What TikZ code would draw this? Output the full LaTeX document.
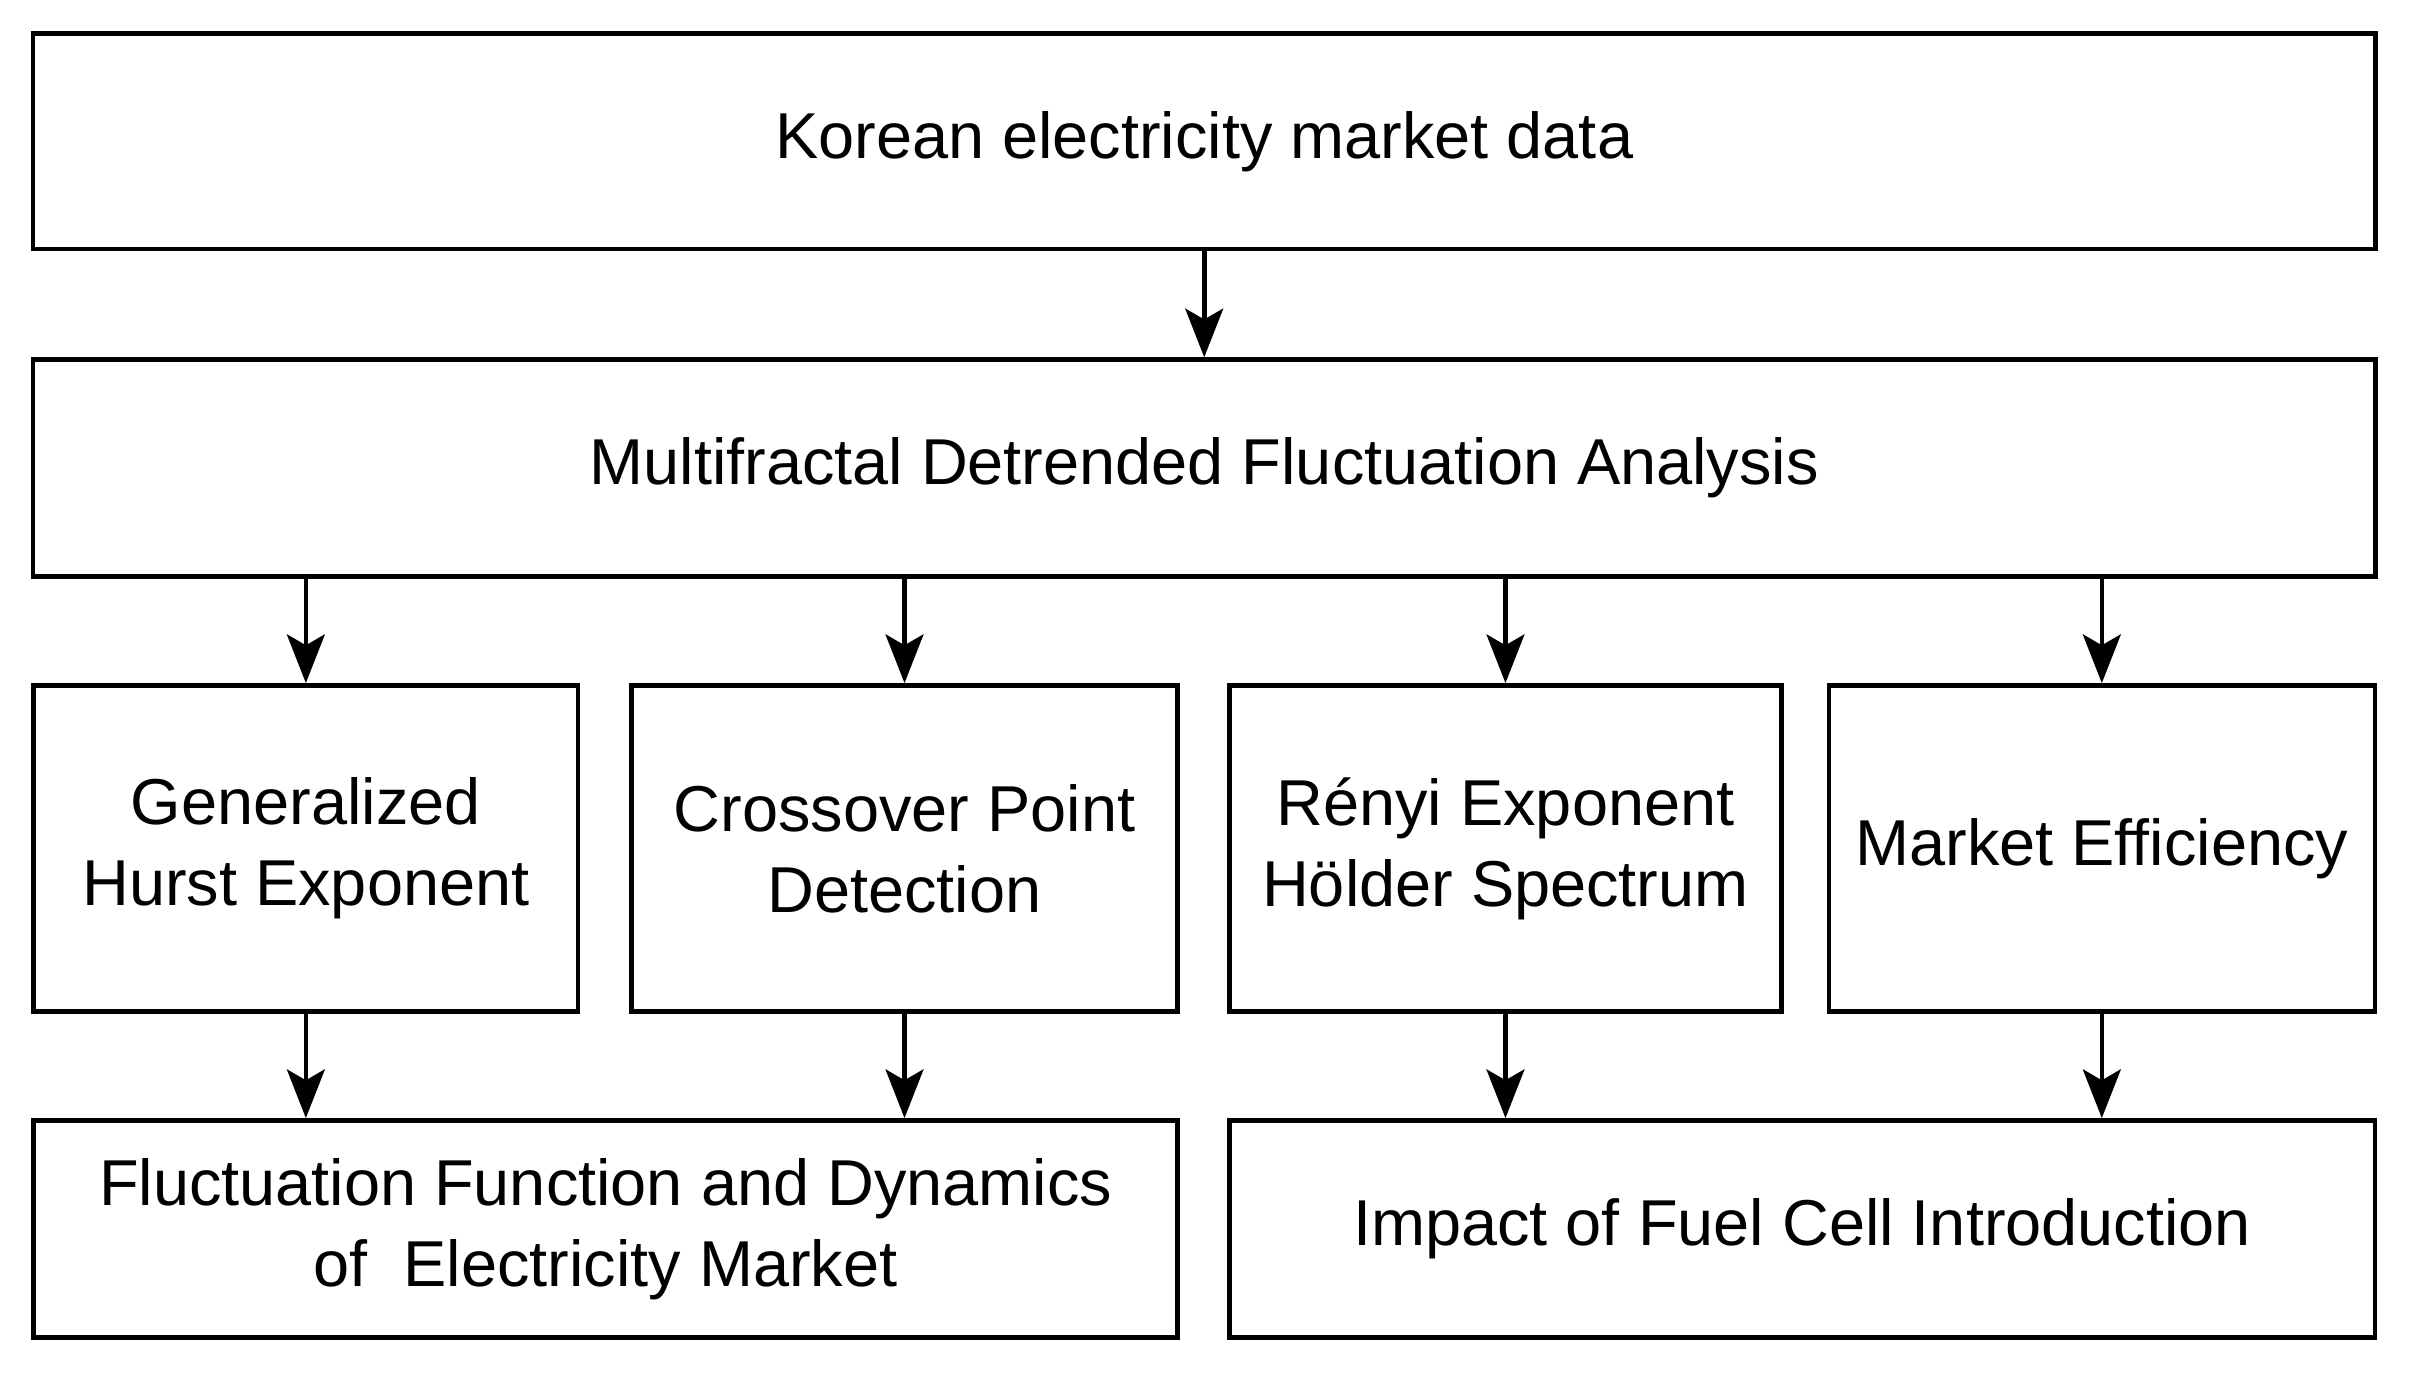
\documentclass[tikz,border=0pt]{standalone}
\usepackage{fontspec}
\setmainfont{Liberation Sans}
\usetikzlibrary{arrows.meta}
\begin{document}
\begin{tikzpicture}[x=0.01cm,y=-0.01cm,
  box/.style={draw,line width=0.85pt,align=center,inner sep=0pt,font=\fontsize{12}{15}\selectfont},
  arr/.style={line width=0.85pt,-{Stealth[length=9pt,width=7pt,inset=2pt]}}]
\useasboundingbox (0,0) rectangle (1568,894);
\node[box,minimum width=15.23cm,minimum height=1.40cm] (top) at (783.5,92) {Korean electricity market data};
\node[box,minimum width=15.23cm,minimum height=1.41cm] (mf) at (783.5,304.5) {Multifractal Detrended Fluctuation Analysis};
\node[box,minimum width=3.54cm,minimum height=2.12cm] (h) at (199,552) {Generalized\\Hurst Exponent};
\node[box,minimum width=3.55cm,minimum height=2.12cm] (c) at (588.5,552) {Crossover Point\\Detection};
\node[box,minimum width=3.59cm,minimum height=2.12cm] (r) at (979.5,552) {Rényi Exponent\\Hölder Spectrum};
\node[box,minimum width=3.55cm,minimum height=2.12cm] (m) at (1367.5,552) {Market Efficiency};
\node[box,minimum width=7.44cm,minimum height=1.41cm] (f) at (394,799.5) {Fluctuation Function and Dynamics\\of~ Electricity Market};
\node[box,minimum width=7.45cm,minimum height=1.41cm] (i) at (1172.5,799.5) {Impact of Fuel Cell Introduction};
\draw[arr] (top.south) -- (mf.north);
\foreach \n in {h,c,r,m} \draw[arr] (mf.south -| \n.north) -- (\n.north);
\draw[arr] (h.south) -- (h.south |- f.north);
\draw[arr] (c.south) -- (c.south |- f.north);
\draw[arr] (r.south) -- (r.south |- i.north);
\draw[arr] (m.south) -- (m.south |- i.north);
\end{tikzpicture}
\end{document}
